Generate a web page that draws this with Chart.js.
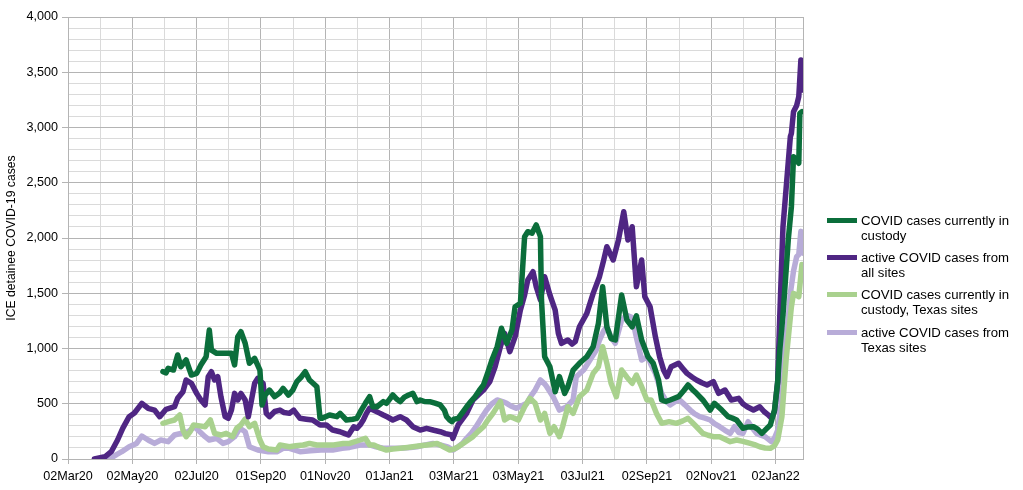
<!DOCTYPE html>
<html>
<head>
<meta charset="utf-8">
<script src="https://cdn.jsdelivr.net/npm/chart.js@4.4.1/dist/chart.umd.min.js"></script>
<style>
  html, body { margin: 0; padding: 0; background: #fff; }
  #wrap { position: relative; width: 1023px; height: 490px; font-family: "Liberation Sans", Arial, sans-serif; }
  #legend { position: absolute; left: 827px; top: 0; }
  .item { position: absolute; left: 0; width: 196px; }
  .swatch { position: absolute; left: 0; top: 5px; width: 30px; height: 5px; }
  .label { position: absolute; left: 34px; width: 158px; font-size: 13.2px; line-height: 15px; color: #000; }
</style>
</head>
<body>
<div id="wrap">
  <canvas id="chart" width="1023" height="490"></canvas>
  <div id="legend"></div>
</div>
<script>
// x values are days since 02Mar20
const xTickLabels = ["02Mar20", "02May20", "02Jul20", "01Sep20", "01Nov20", "01Jan21",
  "03Mar21", "03May21", "03Jul21", "02Sep21", "02Nov21", "02Jan22"];

const custodyDays = [90,93,95,100,104,107,112,117,122,126,131,134,136,141,149,155,158,161,164,168,
  172,177,182,184,187,191,196,201,204,209,213,217,221,225,229,236,239,241,248,255,
  258,264,270,274,278,282,286,289,293,299,302,308,312,315,319,323,327,331,334,338,
  343,348,353,357,359,362,364,366,370,374,378,382,386,390,394,398,402,407,411,416,
  421,424,429,433,436,440,444,448,449,452,457,462,466,471,474,479,485,492,498,503,
  507,511,515,519,525,530,535,539,544,550,555,560,563,567,571,579,584,588,592,596,
  602,609,613,620,626,630,634,640,645,650,654,658,662,666,670,673,675,678,683,686,
  688,691,693,694,696];
const custodyCases = [790,780,821,805,941,835,896,760,775,851,926,1167,986,956,956,956,851,1107,1152,1047,
  866,911,805,489,579,624,564,600,639,579,620,700,740,790,715,654,368,368,398,383,
  413,353,360,368,440,504,564,473,473,519,504,579,540,519,560,579,594,519,534,520,
  519,505,489,440,383,353,338,360,368,420,473,520,564,620,670,780,896,1016,1183,1047,
  1167,1378,1409,2012,2057,2043,2118,2012,1439,926,835,609,745,594,654,805,866,926,1016,1227,
  1559,1197,1090,1077,1484,1258,1197,1295,1077,926,866,715,534,520,534,564,620,670,630,594,
  534,443,504,443,383,370,353,278,290,292,270,232,270,308,443,700,986,1300,1982,2283,
  2735,2706,2676,3128,3143];

const allSitesDays = [25,35,41,47,52,58,63,70,76,82,87,93,101,104,109,112,117,122,126,130,
  133,136,139,142,145,149,152,155,158,161,164,168,171,174,177,180,183,185,188,191,
  196,201,205,210,214,220,226,232,239,245,251,258,262,266,271,274,277,280,283,286,
  290,296,299,303,308,315,318,321,327,334,340,347,353,358,364,365,368,370,374,378,
  384,389,394,400,405,410,414,419,424,429,433,436,441,444,448,452,457,462,465,468,
  474,478,481,485,492,498,504,508,511,517,522,527,531,535,539,544,547,552,557,561,
  565,568,572,579,583,587,592,596,601,606,612,617,623,629,636,640,644,650,656,660,
  664,667,670,673,675,678,681,685,686,688,691,693,695,697];
const allSitesCases = [0,20,66,172,280,383,416,504,459,443,383,450,473,549,609,715,685,594,534,489,
  745,790,715,745,564,383,368,443,594,534,594,534,383,534,685,730,700,685,413,383,
  430,443,420,413,443,368,360,353,308,308,262,247,232,217,292,278,308,353,413,459,
  440,413,398,380,353,383,368,353,292,262,278,260,247,230,217,187,260,308,360,413,
  534,580,624,700,835,1016,1137,971,1107,1348,1484,1620,1695,1559,1439,1650,1484,1348,1137,1047,
  1077,1040,1062,1197,1318,1499,1650,1800,1921,1801,1982,2238,1982,2102,1559,1801,1469,1378,1107,926,
  800,745,835,866,820,775,740,715,690,670,700,594,624,534,549,500,473,443,473,430,
  400,370,430,700,1300,2100,2450,2917,2947,3143,3200,3279,3611,3339];

const txCustodyDays = [90,96,101,106,109,112,116,119,125,130,135,139,145,150,156,160,164,168,172,177,
  182,185,190,198,201,210,216,223,229,236,245,252,261,267,277,282,286,290,296,302,
  308,315,322,327,334,340,350,356,362,366,370,376,384,389,394,398,403,410,414,419,
  423,427,433,438,443,448,452,457,461,466,469,474,479,485,492,498,503,507,511,515,
  520,525,530,535,539,544,549,553,558,563,570,577,583,588,592,596,602,607,612,618,
  624,628,634,640,647,651,656,661,666,670,673,677,681,686,688,693,696];
const txCustodyCases = [323,340,353,398,262,202,250,308,300,292,353,232,217,232,202,278,308,360,292,323,
  172,111,90,81,127,111,120,127,141,127,127,127,141,141,172,187,127,127,100,81,
  90,97,105,111,120,127,141,111,81,90,110,150,202,250,292,350,413,519,353,383,
  370,353,473,549,504,353,413,232,292,202,292,473,413,564,624,775,835,1016,866,685,
  564,805,740,685,760,654,534,534,413,323,338,323,345,368,330,292,232,215,202,202,
  175,157,172,160,141,130,111,100,97,120,172,383,900,1378,1499,1469,1760];

const txActiveDays = [31,41,46,51,58,65,70,76,82,88,95,101,107,114,120,125,130,134,141,147,
  152,158,163,168,172,180,190,198,204,210,220,230,240,251,260,267,277,286,292,299,
  307,315,325,331,340,346,353,360,365,370,374,378,383,387,392,397,402,407,412,416,
  420,425,430,435,439,443,448,452,454,460,466,470,473,479,482,489,495,501,504,508,
  511,515,519,525,530,535,539,544,550,553,557,563,567,571,576,580,585,590,594,599,
  604,609,613,618,623,628,632,636,640,645,649,653,657,661,664,667,670,673,676,680,
  683,685,688,691,693,695,697];
const txActiveCases = [0,10,40,66,111,141,208,172,141,172,157,217,232,247,292,247,202,172,187,141,
  157,202,278,247,111,81,66,66,97,97,66,75,81,81,97,105,127,127,111,97,
  97,97,105,111,130,141,127,110,81,111,140,187,240,292,370,443,500,534,520,504,
  480,459,480,504,570,624,715,680,654,564,443,460,473,534,745,805,896,986,1077,1160,
  1197,1100,1047,1258,1300,1280,1100,896,926,850,775,594,530,489,520,534,490,443,410,383,
  370,353,320,292,260,232,292,240,232,338,280,232,215,202,180,157,190,260,473,1077,
  1258,1499,1700,1831,1850,2060,1861];

const MAJOR_GRID = "#b4b4b4";
const MINOR_GRID = "#dadada";
const TICK_FONT = { family: "'Liberation Sans', Arial, sans-serif", size: 12.6 };

function toPoints(days, vals) {
  return days.map((d, i) => ({ x: d, y: vals[i] }));
}

function series(label, color, days, vals) {
  return {
    label: label,
    data: toPoints(days, vals),
    borderColor: color,
    backgroundColor: color,
    borderWidth: 5.5,
    pointRadius: 0,
    tension: 0,
    borderJoinStyle: "round",
    borderCapStyle: "round",
  };
}

function xIsMajor(v) {
  const k = Math.round(v / 30.5);
  return k % 2 === 0 && Math.abs(v - k * 30.5) < 0.01;
}

// index 0 is drawn on top by Chart.js
const datasets = [
  series("COVID cases currently in custody", "#0b6e3b", custodyDays, custodyCases),
  series("active COVID cases from all sites", "#4f2683", allSitesDays, allSitesCases),
  series("COVID cases currently in custody, Texas sites", "#a9d18e", txCustodyDays, txCustodyCases),
  series("active COVID cases from Texas sites", "#b8acd8", txActiveDays, txActiveCases),
];

const chart = new Chart(document.getElementById("chart"), {
  type: "line",
  data: { datasets: datasets },
  options: {
    responsive: false,
    animation: false,
    devicePixelRatio: 1,
    layout: { padding: { top: 17, right: 220, left: 0, bottom: 0 } },
    scales: {
      x: {
        type: "linear",
        min: 0,
        max: 697,
        afterFit: (s) => { s.height = 31; },
        ticks: {
          stepSize: 30.5,
          includeBounds: false,
          autoSkip: false,
          maxRotation: 0,
          padding: 5,
          color: "#000",
          font: TICK_FONT,
          callback: (v) => {
            const k = Math.round(v / 30.5);
            if (k % 2 !== 0 || Math.abs(v - k * 30.5) > 0.01) return "";
            return xTickLabels[k / 2] || "";
          },
        },
        grid: {
          color: (ctx) => (ctx.tick && xIsMajor(ctx.tick.value) ? MAJOR_GRID : MINOR_GRID),
          tickColor: (ctx) => (ctx.tick && xIsMajor(ctx.tick.value) ? MAJOR_GRID : "rgba(0,0,0,0)"),
          tickLength: 5,
        },
        border: { color: MAJOR_GRID },
      },
      y: {
        min: 0,
        max: 4000,
        afterFit: (s) => { s.width = 68; },
        title: {
          display: true,
          text: "ICE detainee COVID-19 cases",
          color: "#000",
          font: { family: "'Liberation Sans', Arial, sans-serif", size: 12.2 },
          padding: { top: 4, bottom: 0 },
        },
        ticks: {
          stepSize: 100,
          autoSkip: false,
          padding: 4,
          color: "#000",
          font: TICK_FONT,
          callback: (v) => (v % 500 === 0 ? v.toLocaleString("en-US") : ""),
        },
        grid: {
          color: (ctx) => (ctx.tick && ctx.tick.value % 500 === 0 ? MAJOR_GRID : MINOR_GRID),
          tickColor: (ctx) => (ctx.tick && ctx.tick.value % 500 === 0 ? MAJOR_GRID : "rgba(0,0,0,0)"),
          tickLength: 6,
        },
        border: { color: MAJOR_GRID },
      },
      // only draws the right edge of the plot area
      yRight: {
        position: "right",
        min: 0,
        max: 4000,
        afterFit: (s) => { s.width = 0; },
        ticks: { display: false },
        grid: { display: false },
        border: { display: true, color: MAJOR_GRID },
      },
    },
    plugins: {
      legend: { display: false },
      tooltip: { enabled: false },
    },
  },
});

function renderLegend() {
  const host = document.getElementById("legend");
  host.innerHTML = "";
  chart.data.datasets.forEach((ds, i) => {
    const el = document.createElement("div");
    el.className = "item";
    el.style.top = `${213 + i * 37.2}px`;
    el.innerHTML = `
      <div class="swatch" style="background:${ds.borderColor}"></div>
      <div class="label">${ds.label}</div>
    `;
    host.appendChild(el);
  });
}

renderLegend();
</script>
</body>
</html>
